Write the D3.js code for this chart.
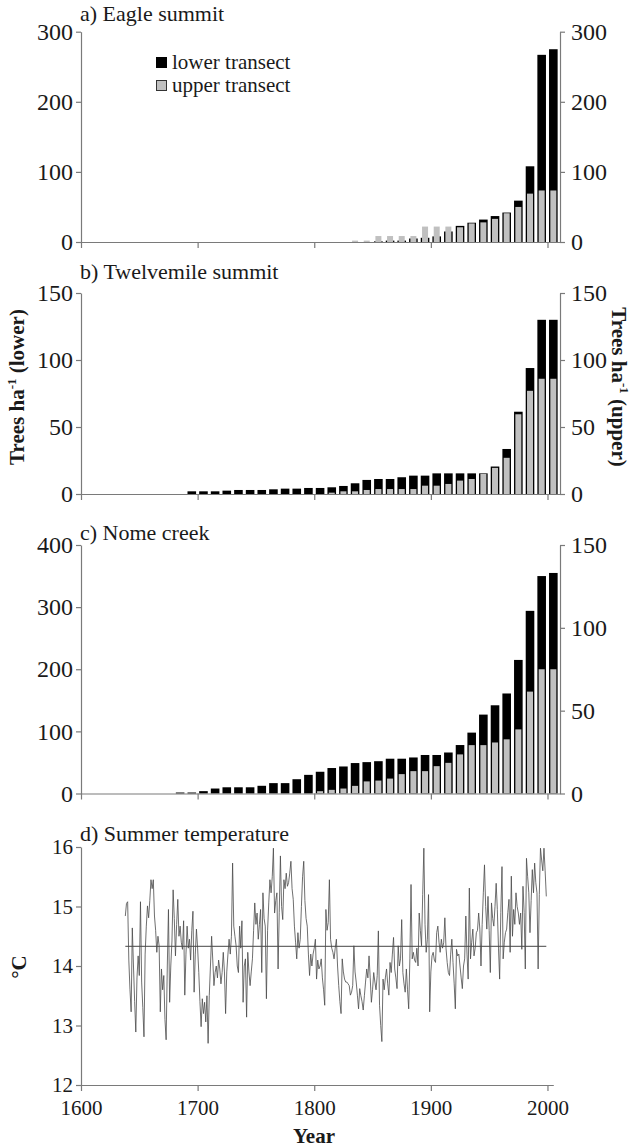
<!DOCTYPE html>
<html><head><meta charset="utf-8">
<script src="https://cdn.jsdelivr.net/npm/d3@7"></script>
<style>
body{margin:0;background:#fff;}
svg text{font-family:"Liberation Serif","Times New Roman",serif;fill:#1a1a1a;}
</style></head><body>
<svg id="chart" width="631" height="1148"></svg>
<script>
// ---------- DATA ----------
const decadesA = [1830,1840,1850,1860,1870,1880,1890,1900,1910,1920,1930,1940,1950,1960,1970,1980,1990,2000];
const lowerA   = [0,0,1,2,2,5,6,8,15,23,27.5,32,37,42,59,108,267,275];
const upperA   = [2,2,8.5,8.5,8.5,8.5,22,22,22,21,26.5,28,33,41,50,69,73.5,73.5];

const decadesB = [1690,1700,1710,1720,1730,1740,1750,1760,1770,1780,1790,1800,1810,1820,1830,1840,1850,1860,1870,1880,1890,1900,1910,1920,1930,1940,1950,1960,1970,1980,1990,2000];
const lowerB   = [2,2,2,2.5,3,3,3,3.5,4,4,4.5,4.5,5,6,8,10.5,11.2,11.2,12.5,13.7,13.7,15.4,15.4,15.4,15.4,15.4,20.5,33.6,61.4,94,130,130];
const upperB   = [0,0,0,0,0,0,0,0,0,0,0,0,1,2,2,3,3.7,3.7,3.7,3.7,6.2,6.2,7.5,10,11.2,15,19.5,27,59.5,77,86,86];

const decadesC = [1680,1690,1700,1710,1720,1730,1740,1750,1760,1770,1780,1790,1800,1810,1820,1830,1840,1850,1860,1870,1880,1890,1900,1910,1920,1930,1940,1950,1960,1970,1980,1990,2000];
const lowerC   = [1.6,1.6,3.8,8,10,10,10,12.4,16.7,16.7,23,30,35,41,43.5,49,50.5,52,56,56,58,62,62,66,78,98,127,142,161,215,294,350,355];
const upperC   = [0,0,0,0,0,0,0,0,0,0,0,0,1.4,2.2,3,4.6,7.3,7.8,9,11.7,13.5,13.5,16.5,18.5,23.6,29.2,29.2,30.8,32.7,38.7,61.5,75,75];

const ticksLeftA = [0,100,200,300],  ticksRightA = [0,100,200,300];
const ticksLeftB = [0,50,100,150],   ticksRightB = [0,50,100,150];
const ticksLeftC = [0,100,200,300,400], ticksRightC = [0,50,100,150];
const yearTicks = [1600,1700,1800,1900,2000];
const tempTicks = [12,13,14,15,16];

const tempStartYear = 1638;
const tempValues = [
14.84,15.05,15.08,14.1,13.6,13.23,14.64,14.0,13.4,12.89,13.8,14.17,13.84,15.08,13.73,13.3,12.81,14.2,14.67,15.01,14.81,15.1,
15.45,15.3,15.45,14.84,14.6,14.23,14.5,14.34,13.23,13.95,13.6,13.84,13.1,12.76,14.0,14.95,13.39,14.0,14.42,15.28,
14.8,14.17,14.7,15.12,14.5,14.67,14.4,14.28,14.76,13.51,14.2,14.67,14.3,14.45,14.1,14.6,14.92,13.56,14.2,14.62,
14.3,13.89,13.4,12.98,13.45,13.2,13.39,13.06,13.5,12.70,13.5,14.0,14.5,14.1,13.67,13.89,14.0,13.8,14.1,13.95,
13.7,13.89,14.23,13.9,13.2,13.9,14.2,14.45,14.2,14.5,15.73,14.67,14.5,14.34,14.0,13.89,14.67,14.3,14.76,13.39,
14.0,14.12,13.14,14.23,13.9,13.67,13.9,14.12,14.6,15.06,14.7,14.89,14.45,14.7,14.95,13.89,15.23,14.8,14.67,13.45,
14.6,15.06,15.45,15.23,15.5,15.98,14.89,15.1,15.23,13.95,14.9,15.85,15.0,14.78,15.45,15.3,15.56,15.34,15.4,15.56,
15.76,15.3,15.12,14.67,14.4,14.12,14.56,14.3,14.45,15.0,15.5,15.76,15.1,14.8,14.67,14.2,13.84,14.2,14.0,14.2,
14.3,14.45,13.78,14.1,13.95,14.0,14.12,13.8,13.6,13.34,14.95,14.6,14.73,15.45,14.45,14.3,14.23,14.12,14.3,14.45,
14.0,13.67,13.4,13.2,14.12,13.9,13.78,13.73,13.73,13.7,13.67,13.51,13.56,13.67,14.34,13.9,13.73,13.51,13.28,13.62,
13.5,13.4,13.26,13.5,13.73,13.95,13.8,14.17,13.8,13.39,13.6,13.89,13.73,13.6,13.84,14.59,13.34,13.0,12.73,13.78,
13.6,13.8,13.95,13.7,13.51,14.06,13.89,14.2,14.48,13.95,13.8,13.62,14.34,14.0,14.12,14.78,13.89,13.7,13.56,13.95,
13.6,13.28,14.12,15.37,14.12,14.23,14.1,14.06,14.3,14.0,14.89,14.6,14.34,15.2,15.98,14.7,14.23,14.45,15.2,13.23,
13.9,14.17,14.23,14.1,14.06,14.56,14.67,14.4,14.23,14.45,14.3,14.39,14.81,14.3,14.06,13.89,13.84,14.2,14.45,14.06,
13.7,13.28,14.28,14.17,14.2,14.0,13.8,13.62,14.0,14.12,14.84,14.2,13.78,15.31,14.12,14.4,14.62,14.17,14.3,14.56,
14.6,14.89,14.62,14.0,14.7,15.23,15.7,15.0,14.62,15.17,14.6,13.89,15.06,14.8,14.67,15.0,15.39,14.95,14.3,13.78,
14.9,15.67,14.12,14.4,14.56,14.62,14.9,15.12,14.23,15.51,14.5,14.95,14.7,15.23,15.0,14.89,14.7,14.89,14.28,15.34,
14.9,13.95,15.81,15.5,15.23,14.56,15.1,15.62,15.23,15.73,15.4,15.23,13.95,15.2,15.98,15.78,15.6,15.98,15.6,15.17
];
const tempYears = tempValues.map((v,i)=>tempStartYear+i);
const tempMean = 14.33;

// ---------- DRAW ----------
const FONT = '"Liberation Serif","Times New Roman",serif';
const svg = d3.select("#chart").attr("font-family",FONT);
const AX = "#7a7a7a";
const FS_TITLE = 22, FS_LEG = 21, FS_TICK = 24, FS_TTICK = 21, FS_XTICK = 21, FS_LAB = 21;
const x = d3.scaleLinear().domain([1600,2010.5]).range([81,559.75]);

function styleAxis(g, fs){
  g.attr("font-family",FONT);
  g.selectAll(".domain").attr("stroke",AX).attr("stroke-width",1.2);
  g.selectAll(".tick line").attr("stroke",AX).attr("stroke-width",1.2);
  g.selectAll(".tick text").attr("font-size",fs).attr("fill","#1a1a1a").attr("font-family",FONT);
}

function barPanel(cfg){
  const yL = d3.scaleLinear().domain([0,cfg.leftMax]).range([cfg.y0,cfg.yTop]);
  const yR = d3.scaleLinear().domain([0,cfg.rightMax]).range([cfg.y0,cfg.yTop]);
  const g = svg.append("g");
  g.append("text").attr("x",80).attr("y",cfg.titleY).attr("font-size",FS_TITLE).text(cfg.title);
  const data = cfg.decades.map((d,i)=>({d, lo:cfg.lower[i], up:cfg.upper[i]}));
  g.selectAll(".blk").data(data).enter().append("rect")
    .attr("x",d=>x(d.d+5)-4.3).attr("width",8.6)
    .attr("y",d=>yL(d.lo)).attr("height",d=>cfg.y0-yL(d.lo)).attr("fill","#000");
  g.selectAll(".gry").data(data).enter().append("rect")
    .attr("x",d=>x(d.d+5)-3).attr("width",6)
    .attr("y",d=>yR(d.up)).attr("height",d=>cfg.y0-yR(d.up)).attr("fill","#c0c0c0");
  const ga = g.append("g").attr("transform",`translate(81,0)`)
    .call(d3.axisLeft(yL).tickValues(cfg.ticksL).tickSize(5).tickSizeOuter(0).tickPadding(3).tickFormat(d3.format("d")));
  styleAxis(ga, FS_TICK);
  const gr = g.append("g").attr("transform",`translate(560,0)`)
    .call(d3.axisRight(yR).tickValues(cfg.ticksR).tickSize(5).tickSizeOuter(0).tickPadding(6).tickFormat(d3.format("d")));
  styleAxis(gr, FS_TICK);
  const gb = g.append("g").attr("transform",`translate(0,${cfg.y0})`)
    .call(d3.axisBottom(x).tickValues(yearTicks).tickSize(6).tickSizeOuter(0).tickFormat(""));
  styleAxis(gb, FS_TICK);
  return g;
}

barPanel({decades:decadesA, lower:lowerA, upper:upperA, leftMax:300, rightMax:300,
  ticksL:ticksLeftA, ticksR:ticksRightA, y0:242, yTop:31.7, title:"a) Eagle summit", titleY:21});
barPanel({decades:decadesB, lower:lowerB, upper:upperB, leftMax:150, rightMax:150,
  ticksL:ticksLeftB, ticksR:ticksRightB, y0:494, yTop:293, title:"b) Twelvemile summit", titleY:279});
barPanel({decades:decadesC, lower:lowerC, upper:upperC, leftMax:400, rightMax:150,
  ticksL:ticksLeftC, ticksR:ticksRightC, y0:793.5, yTop:545, title:"c) Nome creek", titleY:540});

// legend
const leg = svg.append("g");
leg.append("rect").attr("x",156).attr("y",57).attr("width",11).attr("height",11).attr("fill","#000");
leg.append("text").attr("x",172).attr("y",69).attr("font-size",FS_LEG).text("lower transect");
leg.append("rect").attr("x",156.5).attr("y",80.5).attr("width",10).attr("height",10).attr("fill","#c0c0c0").attr("stroke","#333");
leg.append("text").attr("x",172).attr("y",92).attr("font-size",FS_LEG).text("upper transect");

// axis titles
const lt = svg.append("text").attr("transform","translate(24,387) rotate(-90)").attr("text-anchor","middle")
  .attr("font-size",FS_LAB).attr("font-weight","bold");
lt.append("tspan").text("Trees ha");
lt.append("tspan").attr("dy",-8).attr("font-size",13).text("-1");
lt.append("tspan").attr("dy",8).text(" (lower)");
const rt = svg.append("text").attr("transform","translate(612,387) rotate(90)").attr("text-anchor","middle")
  .attr("font-size",FS_LAB).attr("font-weight","bold");
rt.append("tspan").text("Trees ha");
rt.append("tspan").attr("dy",-8).attr("font-size",13).text("-1");
rt.append("tspan").attr("dy",8).text(" (upper)");

// ---------- temperature panel ----------
const xT = d3.scaleLinear().domain([1600,2005]).range([81,553.3]);
const yT = d3.scaleLinear().domain([12,16]).range([1085,847]);
svg.append("text").attr("x",80).attr("y",841).attr("font-size",FS_TITLE).text("d) Summer temperature");
svg.append("line").attr("x1",xT(tempYears[0])).attr("x2",xT(tempYears[tempYears.length-1]))
  .attr("y1",yT(tempMean)).attr("y2",yT(tempMean)).attr("stroke","#6a6a6a").attr("stroke-width",1.2);
svg.append("path").datum(tempValues)
  .attr("d",d3.line().x((d,i)=>xT(tempYears[i])).y(d=>yT(d)))
  .attr("fill","none").attr("stroke","#4a4a4a").attr("stroke-width",0.8);
const gdy = svg.append("g").attr("transform","translate(81,0)")
  .call(d3.axisLeft(yT).tickValues(tempTicks).tickSize(5).tickSizeOuter(0).tickPadding(3).tickFormat(d3.format("d")));
styleAxis(gdy, FS_TTICK);
const gdx = svg.append("g").attr("transform","translate(0,1085)")
  .call(d3.axisBottom(xT).tickValues(yearTicks).tickSize(6).tickSizeOuter(0).tickPadding(9).tickFormat(d3.format("d")));
styleAxis(gdx, FS_XTICK);
svg.append("text").attr("transform","translate(26,967) rotate(-90)").attr("text-anchor","middle")
  .attr("font-size",FS_LAB).attr("font-weight","bold").text("°C");
svg.append("text").attr("x",314).attr("y",1143).attr("text-anchor","middle")
  .attr("font-size",FS_LAB).attr("font-weight","bold").text("Year");
</script>
</body></html>
